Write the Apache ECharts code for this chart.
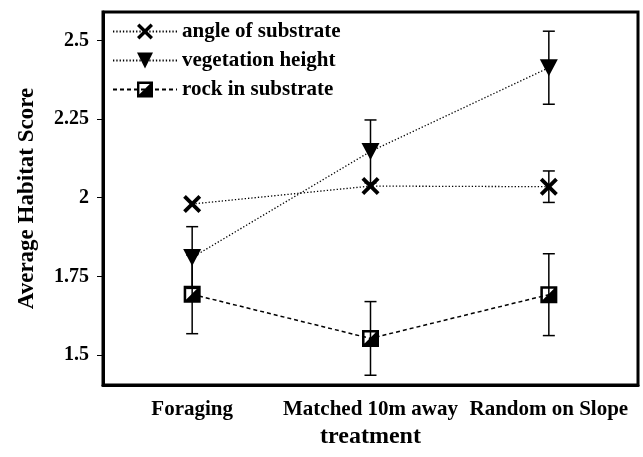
<!DOCTYPE html>
<html>
<head>
<meta charset="utf-8">
<script src="https://cdn.jsdelivr.net/npm/echarts@6/dist/echarts.min.js"></script>
<style>
  html, body { margin: 0; padding: 0; background: #fff; }
  #chart { width: 643px; height: 457px; }
</style>
</head>
<body>
<div id="chart"></div>
<script>
// treatment categories
var treatments = ['Foraging', 'Matched 10m away', 'Random on Slope'];

// means
var angleMean = [1.98, 2.037, 2.035];
var vegMean = [1.81, 2.147, 2.413];
var rockMean = [1.693, 1.553, 1.692];

// error bar half-widths (0 = not visible)
var angleErr = [0, 0, 0.05];
var vegErr = [0.098, 0.1, 0.116];
var rockErr = [0.125, 0.117, 0.13];

var yTicks = [1.5, 1.75, 2, 2.25, 2.5];

var font = 'Liberation Serif';

var symX = 'path://M0,3 L3,0 L10,7 L17,0 L20,3 L13,10 L20,17 L17,20 L10,13 L3,20 L0,17 L7,10 Z';
var symTri = 'path://M0,0 L20,0 L10,20 Z';
var symSq = 'path://M0,0 L20,0 L20,20 L0,20 Z M3,3 L3,16 L16,3 Z';

function errData(means, errs) {
    return means.map(function (m, i) { return [i, m, errs[i]]; });
}

function renderErr(params, api) {
    var x = api.value(0), m = api.value(1), e = api.value(2);
    if (!e) return;
    var top = api.coord([x, m + e]);
    var bot = api.coord([x, m - e]);
    var w = 6;
    var st = { stroke: '#000', lineWidth: 1.5 };
    return {
        type: 'group',
        children: [
            { type: 'line', shape: { x1: top[0], y1: top[1], x2: bot[0], y2: bot[1] }, style: st },
            { type: 'line', shape: { x1: top[0] - w, y1: top[1], x2: top[0] + w, y2: top[1] }, style: st },
            { type: 'line', shape: { x1: bot[0] - w, y1: bot[1], x2: bot[0] + w, y2: bot[1] }, style: st }
        ]
    };
}

var chart = echarts.init(document.getElementById('chart'));

var option = {
    animation: false,
    backgroundColor: '#fff',
    textStyle: { fontFamily: font, color: '#000' },
    grid: {
        left: 103, right: 5, top: 12, bottom: 72,
        show: true, borderColor: '#000', borderWidth: 3
    },
    legend: {
        data: ['angle of substrate', 'vegetation height', 'rock in substrate'],
        orient: 'vertical',
        left: 107,
        top: 16,
        itemWidth: 64,
        itemHeight: 20,
        itemGap: 8,
        textStyle: { fontFamily: font, fontSize: 21, fontWeight: 'bold', color: '#000' }
    },
    xAxis: {
        type: 'category',
        data: treatments,
        boundaryGap: true,
        name: 'treatment',
        nameLocation: 'middle',
        nameGap: 39,
        nameTextStyle: { fontFamily: font, fontSize: 24, fontWeight: 'bold', color: '#000' },
        axisLine: { lineStyle: { color: '#000', width: 3 } },
        axisTick: { alignWithLabel: true, length: 6, lineStyle: { color: '#000', width: 1 } },
        axisLabel: {
            interval: 0, hideOverlap: false,
            fontFamily: font, fontSize: 21, fontWeight: 'bold', color: '#000', margin: 14
        },
        splitLine: { show: false }
    },
    yAxis: {
        type: 'value',
        min: 1.405,
        max: 2.59,
        name: 'Average Habitat Score',
        nameLocation: 'middle',
        nameGap: 64,
        nameTextStyle: { fontFamily: font, fontSize: 23, fontWeight: 'bold', color: '#000' },
        axisLine: { show: true, lineStyle: { color: '#000', width: 3 } },
        axisTick: { show: true, length: 6, customValues: yTicks, lineStyle: { color: '#000', width: 1 } },
        axisLabel: { fontFamily: font, fontSize: 20, fontWeight: 'bold', color: '#000', margin: 14, customValues: yTicks },
        splitLine: { show: false }
    },
    series: [
        { name: 'err angle', type: 'custom', renderItem: renderErr, data: errData(angleMean, angleErr), encode: { x: 0, y: 1 }, z: 1 },
        { name: 'err veg', type: 'custom', renderItem: renderErr, data: errData(vegMean, vegErr), encode: { x: 0, y: 1 }, z: 1 },
        { name: 'err rock', type: 'custom', renderItem: renderErr, data: errData(rockMean, rockErr), encode: { x: 0, y: 1 }, z: 1 },
        {
            name: 'angle of substrate', type: 'line', data: angleMean,
            symbol: symX, symbolSize: 18, showAllSymbol: true, z: 3,
            itemStyle: { color: '#000' },
            lineStyle: { color: '#000', width: 1.3, type: [1.3, 2] }
        },
        {
            name: 'vegetation height', type: 'line', data: vegMean,
            symbol: symTri, symbolSize: [18, 17], showAllSymbol: true, z: 3,
            itemStyle: { color: '#000' },
            lineStyle: { color: '#000', width: 1.3, type: [1.3, 2] }
        },
        {
            name: 'rock in substrate', type: 'line', data: rockMean,
            symbol: symSq, symbolSize: 17, showAllSymbol: true, z: 3,
            itemStyle: { color: '#000' },
            lineStyle: { color: '#000', width: 1.5, type: [4, 3] }
        }
    ]
};

chart.setOption(option);
</script>
</body>
</html>
